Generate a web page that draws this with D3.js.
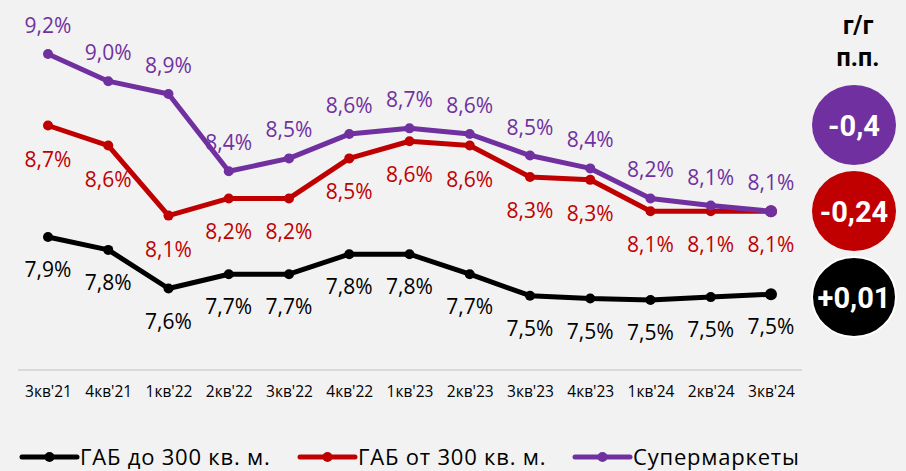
<!DOCTYPE html>
<html>
<head>
<meta charset="utf-8">
<script src="https://cdn.jsdelivr.net/npm/d3@7"></script>
<style>
  html, body { margin: 0; padding: 0; background: #f2f2f2; }
  svg { display: block; font-family: "Open Sans", sans-serif; }
</style>
</head>
<body>
<svg id="chart"></svg>
<script>
const categories = ["3кв'21", "4кв'21", "1кв'22", "2кв'22", "3кв'22", "4кв'22", "1кв'23",
  "2кв'23", "3кв'23", "4кв'23", "1кв'24", "2кв'24", "3кв'24"];

const small = [7.92, 7.83, 7.56, 7.66, 7.66, 7.80, 7.80, 7.66, 7.51, 7.49, 7.48, 7.50, 7.52];
const large = [8.70, 8.56, 8.07, 8.19, 8.19, 8.47, 8.59, 8.56, 8.34, 8.32, 8.10, 8.10, 8.10];
const supers = [9.20, 9.01, 8.92, 8.38, 8.47, 8.64, 8.68, 8.64, 8.49, 8.40, 8.19, 8.14, 8.10];

const seriesNames = ["ГАБ до 300 кв. м.", "ГАБ от 300 кв. м.", "Супермаркеты"];
const changes = ["+0,01", "-0,24", "-0,4"];
const panelTitle = ["г/г", "п.п."];

const width = 906, height = 471;

const series = [
  { name: seriesNames[0], values: small, color: "#000000", labelDy: 40, change: changes[0] },
  { name: seriesNames[1], values: large, color: "#c00000", labelDy: 41, change: changes[1] },
  { name: seriesNames[2], values: supers, color: "#7030a0", labelDy: -21, change: changes[2] }
];

const svg = d3.select("#chart")
    .attr("width", width)
    .attr("height", height)
    .attr("viewBox", [0, 0, width, height]);

const x = d3.scalePoint(categories, [48, 771]);
const y = d3.scaleLinear([7.2, 9.2], [340, 54]);
const fmt = v => d3.format(".1f")(v).replace(".", ",") + "%";

// baseline under the categories
svg.append("line")
    .attr("x1", 18).attr("x2", 802)
    .attr("y1", 370).attr("y2", 370)
    .attr("stroke", "#d9d9d9")
    .attr("stroke-width", 2);

const xAxis = d3.axisBottom(x).tickSize(0).tickPadding(0);
svg.append("g")
    .attr("transform", "translate(0,386)")
    .call(xAxis)
    .call(g => g.select(".domain").remove())
    .call(g => g.selectAll("text")
        .attr("fill", "#000")
        .style("font-family", "'Open Sans', sans-serif")
        .style("font-size", "15.5px"));

const line = d3.line()
    .x((d, i) => x(categories[i]))
    .y(d => y(d));

const g = svg.selectAll("g.series")
  .data(series)
  .join("g")
    .attr("class", "series");

g.append("path")
    .attr("fill", "none")
    .attr("stroke", d => d.color)
    .attr("stroke-width", 5)
    .attr("stroke-linejoin", "round")
    .attr("d", d => line(d.values));

g.selectAll("circle")
  .data(d => d.values.map((v, i) => ({ v, i, s: d })))
  .join("circle")
    .attr("cx", d => x(categories[d.i]))
    .attr("cy", d => y(d.v))
    .attr("r", d => d.i === categories.length - 1 ? 6 : 5)
    .attr("fill", d => d.s.color);

g.selectAll("text")
  .data(d => d.values.map((v, i) => ({ v, i, s: d })))
  .join("text")
    .attr("x", d => x(categories[d.i]))
    .attr("y", d => y(d.v) + d.s.labelDy)
    .attr("text-anchor", "middle")
    .attr("fill", d => d.s.color)
    .style("font-size", "21px")
    .text(d => fmt(d.v));

// legend
const legendX = [22, 300, 575];
const legend = svg.append("g")
  .selectAll("g")
  .data(series)
  .join("g")
    .attr("transform", (d, i) => `translate(${legendX[i]},457)`);

legend.append("line")
    .attr("x1", 0).attr("x2", 55)
    .attr("stroke", d => d.color)
    .attr("stroke-width", 5)
    .attr("stroke-linecap", "round");

legend.append("circle")
    .attr("cx", 27.5)
    .attr("r", 5)
    .attr("fill", d => d.color);

legend.append("text")
    .attr("x", 58)
    .attr("y", 8)
    .attr("fill", "#000")
    .style("font-size", "22px")
    .style("letter-spacing", "0.8px")
    .text(d => d.name);

// y/y change panel
svg.append("g")
  .selectAll("text")
  .data(panelTitle)
  .join("text")
    .attr("x", 858)
    .attr("y", (d, i) => 34 + i * 32)
    .attr("text-anchor", "middle")
    .style("font-family", "Roboto, sans-serif")
    .style("font-weight", "bold")
    .style("font-size", "25px")
    .text(d => d);

const badgeY = [297, 211, 125];
const badges = svg.append("g")
  .selectAll("g")
  .data(series)
  .join("g")
    .attr("transform", (d, i) => `translate(854,${badgeY[i]})`);

badges.append("ellipse")
    .attr("rx", 42)
    .attr("ry", 40)
    .attr("fill", d => d.color)
    .attr("stroke", "#fff")
    .attr("stroke-width", d => d.color === "#000000" ? 2 : 0);

badges.append("text")
    .attr("y", 11)
    .attr("text-anchor", "middle")
    .attr("fill", "#fff")
    .style("font-family", "Roboto, sans-serif")
    .style("font-weight", "bold")
    .style("font-size", "29px")
    .text(d => d.change);
</script>
</body>
</html>
